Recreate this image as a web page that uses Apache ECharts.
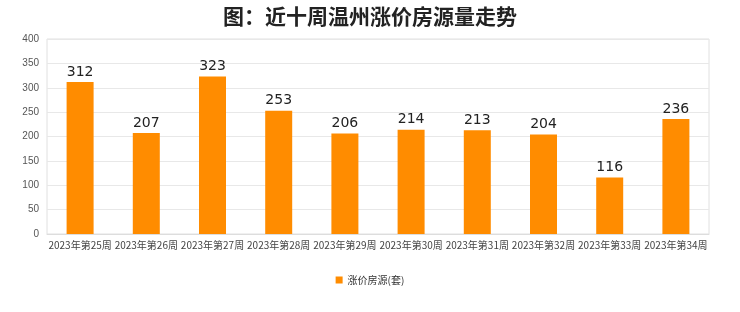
<!DOCTYPE html>
<html><head><meta charset="utf-8">
<script src="https://cdn.jsdelivr.net/npm/echarts@6/dist/echarts.min.js"></script>
<style>html,body{margin:0;padding:0;background:#fff}#c{width:740px;height:312px}</style>
</head><body><div id="c"></div>
<script>
const categories = ["2023年第25周","2023年第26周","2023年第27周","2023年第28周","2023年第29周","2023年第30周","2023年第31周","2023年第32周","2023年第33周","2023年第34周"];
const values = [312,207,323,253,206,214,213,204,116,236];
const seriesName = "涨价房源(套)";
const chart = echarts.init(document.getElementById('c'));
chart.setOption({
  animation:false,
  title:{text:"图：近十周温州涨价房源量走势",left:'center',top:1,textStyle:{fontSize:21,fontWeight:'bold',color:'#222',fontFamily:'Noto Sans CJK SC'}},
  grid:{left:47,right:31,top:39,bottom:78,show:true,borderColor:'#e0e0e0',borderWidth:1},
  legend:{bottom:22,left:'center',itemWidth:7,itemHeight:7,icon:'rect',textStyle:{fontSize:10,color:'#333',fontFamily:'Noto Sans CJK SC'},data:[seriesName]},
  xAxis:{type:'category',data:categories,axisTick:{show:false},axisLine:{lineStyle:{color:'#ddd'}},
    axisLabel:{fontSize:10,color:'#444',interval:0,margin:6,fontFamily:'Noto Sans CJK SC'}},
  yAxis:{type:'value',min:0,max:400,interval:50,axisLine:{show:false},axisTick:{show:false},
    splitLine:{lineStyle:{color:'#e8e8e8'}},axisLabel:{fontSize:10,color:'#555',margin:8}},
  series:[{name:seriesName,type:'bar',data:values,barWidth:27,itemStyle:{color:'#FF8C00'},
    label:{show:true,position:'top',fontSize:14,color:'#222',distance:3,fontFamily:'DejaVu Sans'}}]
});
</script></body></html>
